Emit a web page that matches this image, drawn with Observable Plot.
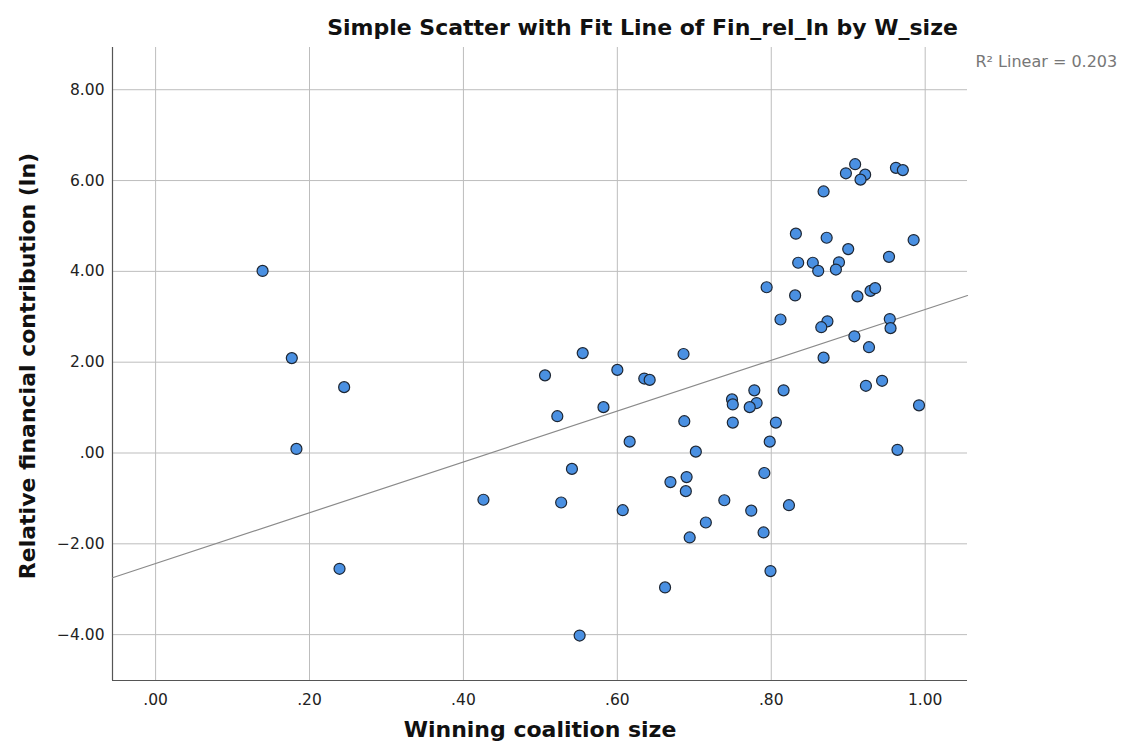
<!DOCTYPE html>
<html>
<head>
<meta charset="utf-8">
<script src="https://cdn.jsdelivr.net/npm/d3@7"></script>
<script src="https://cdn.jsdelivr.net/npm/@observablehq/plot@0.6"></script>
<style>
  html, body { margin: 0; padding: 0; background: #fff; }
  #chart svg { display: block; }
</style>
</head>
<body>
<div id="chart"></div>
<script>
// Winning coalition size (x) and relative financial contribution, ln (y)
const wSize = [
  0.139, 0.177, 0.183, 0.245, 0.239, 0.426,
  0.555, 0.686, 0.506, 0.600, 0.635, 0.642, 0.522, 0.582, 0.687, 0.616, 0.702,
  0.541, 0.527, 0.607, 0.690, 0.669, 0.689, 0.739, 0.715, 0.694, 0.662, 0.551,
  0.908, 0.927, 0.868, 0.923, 0.944, 0.992, 0.964, 0.749, 0.750, 0.778, 0.781,
  0.772, 0.816, 0.750, 0.806, 0.798, 0.791, 0.774, 0.823, 0.790, 0.799,
  0.909, 0.897, 0.922, 0.916, 0.962, 0.971, 0.868, 0.832, 0.872, 0.985, 0.900,
  0.953, 0.835, 0.854, 0.888, 0.861, 0.884, 0.794, 0.831, 0.912, 0.929, 0.935,
  0.812, 0.873, 0.865, 0.954, 0.955
];
const finRel = [
  4.01, 2.09, 0.09, 1.45, -2.55, -1.03,
  2.20, 2.18, 1.71, 1.83, 1.64, 1.61, 0.81, 1.01, 0.70, 0.25, 0.03,
  -0.35, -1.09, -1.26, -0.53, -0.64, -0.84, -1.04, -1.53, -1.86, -2.96, -4.02,
  2.57, 2.33, 2.10, 1.48, 1.59, 1.05, 0.07, 1.18, 1.07, 1.38, 1.10,
  1.01, 1.38, 0.67, 0.67, 0.25, -0.44, -1.27, -1.15, -1.75, -2.60,
  6.36, 6.16, 6.13, 6.02, 6.28, 6.23, 5.76, 4.83, 4.74, 4.69, 4.49,
  4.32, 4.19, 4.19, 4.20, 4.01, 4.04, 3.65, 3.47, 3.45, 3.57, 3.63,
  2.94, 2.90, 2.77, 2.95, 2.75
];
const xTicks = [0, 0.2, 0.4, 0.6, 0.8, 1.0];
const yTicks = [-4, -2, 0, 2, 4, 6, 8];
const xDomain = [-0.056, 1.055];
const yDomain = [-5.01, 8.93];
const titleText = "Simple Scatter with Fit Line of Fin_rel_ln by W_size";
const xLabel = "Winning coalition size";
const yLabel = "Relative financial contribution (ln)";
const r2Text = "R\u00B2 Linear = 0.203";

const points = wSize.map((x, i) => ({x, y: finRel[i]}));

// least-squares fit computed from the data
const mx = d3.mean(wSize), my = d3.mean(finRel);
const slope = d3.sum(points, d => (d.x - mx) * (d.y - my)) / d3.sum(points, d => (d.x - mx) ** 2);
const intercept = my - slope * mx;
const fitLine = xDomain.map(x => ({x, y: intercept + slope * x}));

const fmt = d => {
  const s = Math.abs(d).toFixed(2);
  const t = s.startsWith("0.") ? s.slice(1) : s;
  return (d < 0 ? "\u2212" : "") + t;
};

const font = "'DejaVu Sans', Verdana, sans-serif";

const chart = Plot.plot({
  width: 1122,
  height: 753,
  marginLeft: 112,
  marginRight: 155,
  marginTop: 47,
  marginBottom: 73,
  style: {fontFamily: font, fontSize: "16px", color: "#222", background: "#fff"},
  x: {domain: xDomain},
  y: {domain: yDomain},
  marks: [
    Plot.gridX(xTicks, {stroke: "#bdbdbd", strokeOpacity: 1}),
    Plot.gridY(yTicks, {stroke: "#bdbdbd", strokeOpacity: 1}),
    Plot.axisX({ticks: xTicks, tickFormat: fmt, tickSize: 0, tickPadding: 13, label: null, fontSize: 15.5}),
    Plot.axisY({ticks: yTicks, tickFormat: fmt, tickSize: 0, tickPadding: 8, label: null, fontSize: 15.5}),
    Plot.ruleX([xDomain[0]], {stroke: "#555", strokeWidth: 1.2}),
    Plot.ruleY([yDomain[0]], {stroke: "#555", strokeWidth: 1.2}),
    Plot.line(fitLine, {x: "x", y: "y", stroke: "#8a8a8a", strokeWidth: 1.2}),
    Plot.dot(points, {x: "x", y: "y", r: 5.5, fill: "#4a90e2", stroke: "#1d2633", strokeWidth: 1.2}),
    Plot.text([titleText], {frameAnchor: "top", lineAnchor: "middle", dx: 102.5, dy: -20, fontSize: 22, fontWeight: "bold", fill: "#111"}),
    Plot.text([xLabel], {frameAnchor: "bottom", lineAnchor: "middle", dy: 49, fontSize: 22, fontWeight: "bold", fill: "#111"}),
    Plot.text([yLabel], {frameAnchor: "left", textAnchor: "middle", lineAnchor: "middle", dx: -85, dy: 2, rotate: -90, fontSize: 22, fontWeight: "bold", fill: "#111"}),
    Plot.text([r2Text], {frameAnchor: "top-right", textAnchor: "start", lineAnchor: "middle", dx: 8, dy: 14, fontSize: 16, fill: "#777"})
  ]
});
document.getElementById("chart").appendChild(chart);
</script>
</body>
</html>
